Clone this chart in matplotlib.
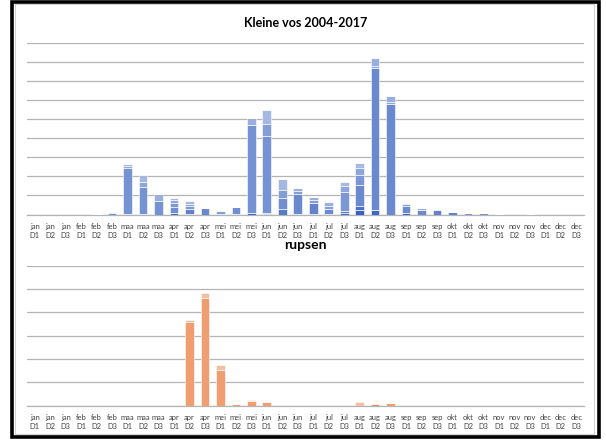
import numpy as np
import matplotlib
matplotlib.use('Agg')
import matplotlib.pyplot as plt
from matplotlib.patches import Rectangle
from matplotlib.colors import LinearSegmentedColormap

plt.rcParams['font.family'] = ['Lato', 'DejaVu Sans']

# categorieen: decades per maand
maanden = ['jan', 'feb', 'maa', 'apr', 'mei', 'jun', 'jul', 'aug', 'sep', 'okt', 'nov', 'dec']
decades = ['D1', 'D2', 'D3']
labels = [m + '\n' + d for m in maanden for d in decades]

# Kleine vos, per jaar (36 decades)
vos_2004 = [0, 0, 0, 0, 0, 0, 0, 0, 0, 0, 0, 0, 0, 0, 0, 0.5, 0, 0, 0, 0, 0, 2.4, 0, 0, 0, 0, 0, 0, 0, 0, 0, 0, 0, 0, 0, 0]
vos_2005 = [0, 0, 0, 0, 0, 0, 0.3, 0.3, 0, 0, 0.5, 0, 0, 0.2, 0.6, 0, 0, 0.5, 0.5, 0.5, 1.0, 0, 2.1, 0, 0.8, 0, 0, 0, 0, 0, 0, 0, 0, 0, 0, 0]
vos_2006 = [0, 0, 0, 0, 0, 0, 0, 0, 0, 1.0, 0, 0, 0, 0, 0, 0.5, 0, 0, 0, 0, 0, 2.1, 0, 0, 0, 0, 0, 0, 0, 0, 0, 0, 0, 0, 0, 0]
vos_2007 = [0, 0, 0, 0, 0, 0, 0, 0, 0, 0, 0, 0, 0, 0, 0, 0, 3.1, 0, 0, 0, 0.9, 0, 0, 0, 0, 0, 0, 0, 0, 0, 0, 0, 0, 0, 0, 0]
vos_2008 = [0, 0, 0, 0, 0, 0, 0, 0, 0, 0, 2.5, 0, 0, 0, 0, 0, 0, 0, 5.6, 0, 0, 0, 0, 0, 0, 0, 2.2, 1.4, 0, 0, 0, 0, 0, 0, 0, 0]
vos_2009 = [0, 0, 0, 0, 0, 0, 0, 0, 0, 0, 0, 3.2, 0, 0, 0, 0, 0, 10.1, 0, 2.6, 0, 11.0, 74.4, 57.9, 3.8, 2.3, 0, 0, 0, 0, 0, 0, 0, 0, 0, 0]
vos_2010 = [0, 0, 0, 0, 0, 0, 0, 0, 0, 3.0, 0, 0, 0.5, 3.8, 0, 0, 5.8, 0, 0, 0, 0, 0, 0, 0, 0, 0, 0, 0, 0, 0, 0, 0, 0, 0, 0, 0]
vos_2011 = [0, 0, 0, 0, 0.1, 1.0, 24.3, 14.0, 7.3, 0, 0, 0, 0, 0, 46.0, 40.0, 0, 0, 0, 0, 0, 0, 0, 0, 0, 0, 0, 0, 0, 0, 0.5, 0, 0, 0, 0, 0]
vos_2012 = [0, 0, 0, 0, 0, 0, 0, 0, 0, 2.0, 1.5, 0, 0, 0, 0, 0, 0, 0, 0, 0, 10.1, 5.3, 0, 0, 0, 0, 0, 0, 0.9, 0.9, 0, 0, 0, 0, 0, 0]
vos_2013 = [0, 0, 0, 0, 0, 0, 0, 0, 0, 0, 0, 0, 1.4, 0, 0, 6.3, 4.0, 1.7, 1.7, 1.5, 0, 0, 0, 0, 0.7, 0, 0, 0, 0, 0, 0, 0, 0, 0, 0, 0]
vos_2014 = [0, 0, 0, 0, 0, 0, 1.0, 2.6, 0, 1.4, 1.2, 0, 0, 0, 0, 0, 0, 0, 0, 0, 3.0, 3.5, 1.0, 1.2, 0, 0, 0, 0, 0, 0, 0, 0, 0.3, 0, 0, 0]
vos_2015 = [0, 0, 0, 0, 0, 0.2, 0, 0, 3.5, 0, 0, 0.3, 0, 0, 3.8, 0, 0, 1.7, 1.4, 2.0, 0, 0, 4.5, 3.0, 0.8, 1.2, 0.8, 0, 0, 0, 0, 0, 0, 0, 0, 0]
vos_2016 = [0, 0, 0, 0, 0, 0, 0.9, 3.9, 0, 1.0, 1.3, 0, 0, 0, 0, 7.3, 5.6, 0, 0, 0, 2.1, 2.6, 0, 0, 0, 0, 0, 0, 0, 0, 0, 0, 0, 0, 0, 0]
vos_2017 = [0] * 36

vos_jaren = [vos_2004, vos_2005, vos_2006, vos_2007, vos_2008, vos_2009, vos_2010,
             vos_2011, vos_2012, vos_2013, vos_2014, vos_2015, vos_2016, vos_2017]

# rupsen
rupsen_donker = [0] * 21 + [0, 0.9, 0] + [0] * 12
rupsen_midden = [0] * 10 + [35.9, 46.1, 15.3, 0.7, 1.9, 1.6] + [0] * 5 + [0, 0, 1.0] + [0] * 12
rupsen_licht = [0] * 10 + [0.6, 2.0, 2.1, 0, 0.4, 0] + [0] * 5 + [1.4, 0, 0.3] + [0] * 12

x = np.arange(len(labels))
breedte = 0.56
raster = '#B4B4B4'

fig = plt.figure(figsize=(6.06, 4.43), dpi=100)

blauw = LinearSegmentedColormap.from_list('blauw', ['#3560C0', '#6686CD', '#7F9AD6', '#AFC0E6'])
ax1 = fig.add_axes([27 / 606, 1 - 214.5 / 443, 557 / 606, 171.9 / 443])
onder = np.zeros(len(labels))
for i, jaar in enumerate(vos_jaren):
    ax1.bar(x, jaar, breedte, bottom=onder, color=blauw(i / 13),
            edgecolor='white', linewidth=0.4, zorder=3)
    onder += np.array(jaar)
ax1.set_ylim(0, 90)
ax1.set_yticks(np.arange(0, 91, 10))
ax1.set_title('Kleine vos 2004-2017', fontsize=9, fontweight='bold', pad=11)

ax2 = fig.add_axes([27 / 606, 1 - 405.7 / 443, 557 / 606, 140.1 / 443])
onder = np.zeros(len(labels))
for serie, kleur in [(rupsen_donker, '#EC8B57'), (rupsen_midden, '#F09D70'), (rupsen_licht, '#F5BDA2')]:
    ax2.bar(x, serie, breedte, bottom=onder, color=kleur, edgecolor='white', linewidth=0.4, zorder=3)
    onder += np.array(serie)
ax2.set_ylim(0, 60)
ax2.set_yticks(np.arange(0, 61, 10))
ax2.set_title('rupsen', fontsize=10, fontweight='bold', pad=12)

for ax in (ax1, ax2):
    ax.set_xlim(-0.5, len(labels) - 0.5)
    ax.set_xticks(x)
    ax.set_xticklabels(labels, fontsize=5.4, color='#404040', linespacing=1.3)
    ax.tick_params(axis='x', length=0, pad=6)
    ax.tick_params(axis='y', length=0, labelleft=False)
    ax.grid(axis='y', color=raster, linewidth=0.9, zorder=0)
    for kant in ['top', 'right', 'left']:
        ax.spines[kant].set_visible(False)
    ax.spines['bottom'].set_color(raster)
    ax.spines['bottom'].set_linewidth(0.9)

# kaders
fig.patches.append(Rectangle((15 / 606, 1 - 434 / 443), 579 / 606, 430 / 443, transform=fig.transFigure,
                             fill=False, edgecolor='#D0D0D0', linewidth=0.7))
fig.patches.append(Rectangle((12 / 606, 1 - 437 / 443), 587 / 606, 435 / 443, transform=fig.transFigure,
                             fill=False, edgecolor='black', linewidth=2.6))

fig.savefig('out.png', dpi=100)
